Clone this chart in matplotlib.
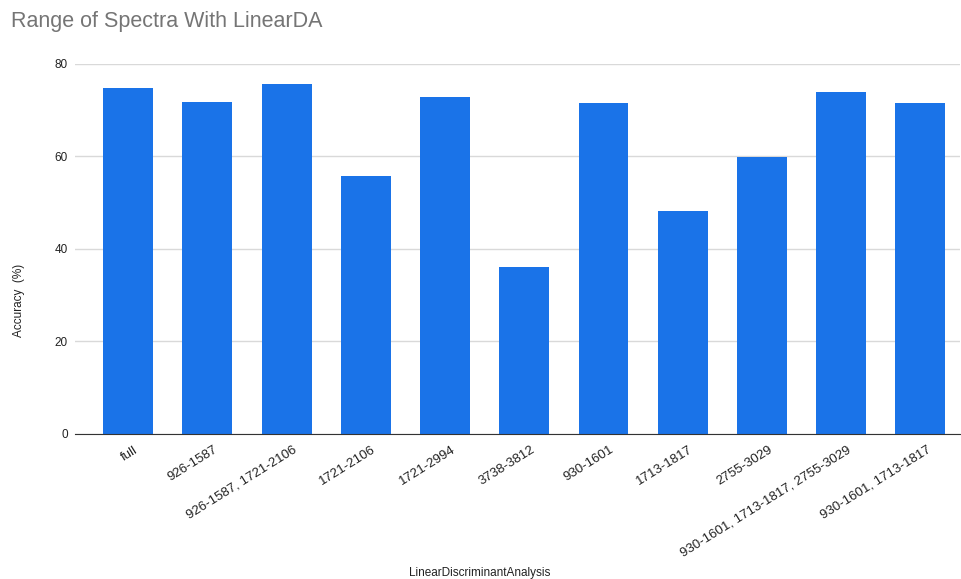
import matplotlib
matplotlib.use("Agg")
import matplotlib.pyplot as plt
import matplotlib.transforms as mtransforms

plt.rcParams['font.family'] = ['Liberation Sans', 'DejaVu Sans']

categories = ["full", "926-1587", "926-1587, 1721-2106", "1721-2106", "1721-2994",
              "3738-3812", "930-1601", "1713-1817", "2755-3029",
              "930-1601, 1713-1817, 2755-3029", "930-1601, 1713-1817"]
accuracy = [74.7, 71.7, 75.6, 55.7, 72.8, 36.0, 71.5, 48.2, 59.9, 74.0, 71.5]
yticks = [0, 20, 40, 60, 80]

W, H = 961, 579
fig = plt.figure(figsize=(W / 100, H / 100), dpi=100)
ax = fig.add_axes([75 / W, (H - 433.5) / H, (960 - 75) / W, (433.5 - 64) / H])

x = list(range(len(categories)))
ax.bar(x, accuracy, width=0.63, color="#1A73E8", zorder=3)

ax.set_ylim(0, 80)
ax.set_xlim(-0.67, 10.5)
ax.set_yticks(yticks)
ax.set_yticklabels([str(v) for v in yticks], fontsize=8.5, color="#222222")
ax.yaxis.grid(True, color="#d9d9d9", linewidth=1, zorder=0)
ax.tick_params(axis='y', length=0, pad=5)
ax.tick_params(axis='x', length=0, pad=6)
ax.set_xticks(x)
ax.set_xticklabels(categories, rotation=32, ha='right', rotation_mode='anchor',
                   fontsize=9.5, color="#222222")
offset = mtransforms.ScaledTranslation(6 / 100, -2 / 100, fig.dpi_scale_trans)
for lbl in ax.get_xticklabels():
    lbl.set_transform(lbl.get_transform() + offset)
for s in ["top", "right", "left"]:
    ax.spines[s].set_visible(False)
ax.spines["bottom"].set_color("#333333")
ax.spines["bottom"].set_zorder(4)

ax.set_ylabel("Accuracy  (%)", fontsize=8.5, color="#222222")
ax.yaxis.set_label_coords(-50 / (960 - 75), 0.36)
fig.text(480 / W, 1 - 573 / H, "LinearDiscriminantAnalysis", fontsize=8.5,
         color="#222222", ha='center', va='center')
fig.text(11 / W, 1 - 21 / H, "Range of Spectra With LinearDA", fontsize=15.5,
         color="#757575", ha='left', va='center')

fig.savefig("out.png", dpi=100)
